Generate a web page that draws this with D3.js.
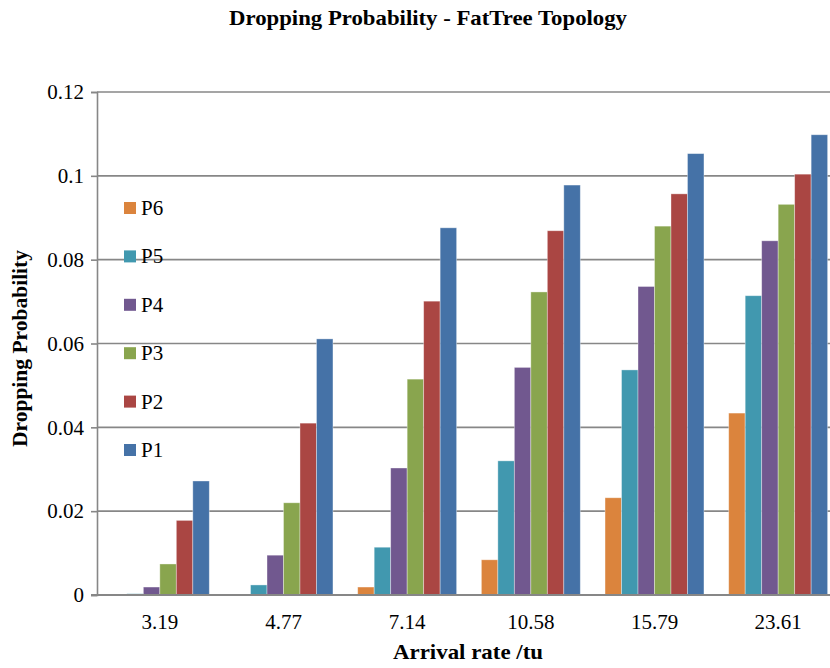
<!DOCTYPE html>
<html>
<head>
<meta charset="utf-8">
<script src="https://cdn.jsdelivr.net/npm/d3@7"></script>
<style>
html,body{margin:0;padding:0;background:#fff;overflow:hidden;}
svg{display:block;}
text{font-family:"Liberation Serif","DejaVu Serif",serif;fill:#000;}
</style>
</head>
<body>
<svg id="chart" width="830" height="668"></svg>
<script>
// ---- data ----
const categories = ["3.19", "4.77", "7.14", "10.58", "15.79", "23.61"];
const seriesNames = ["P6", "P5", "P4", "P3", "P2", "P1"];
const P6 = [0, 0.0002, 0.0019, 0.0084, 0.0232, 0.0434];
const P5 = [0.0003, 0.0024, 0.0114, 0.0320, 0.0537, 0.0714];
const P4 = [0.0019, 0.0095, 0.0303, 0.0543, 0.0736, 0.0845];
const P3 = [0.0074, 0.0220, 0.0515, 0.0723, 0.0880, 0.0932];
const P2 = [0.0178, 0.0410, 0.0701, 0.0869, 0.0957, 0.1004];
const P1 = [0.0272, 0.0611, 0.0876, 0.0978, 0.1053, 0.1098];
const yTickValues = [0, 0.02, 0.04, 0.06, 0.08, 0.1, 0.12];
const yTickLabels = ["0", "0.02", "0.04", "0.06", "0.08", "0.1", "0.12"];
const titleText = "Dropping Probability - FatTree Topology";
const xTitle = "Arrival rate /tu";
const yTitle = "Dropping Probability";

const seriesValues = {P6, P5, P4, P3, P2, P1};
const colors = {P6:"#DB843D", P5:"#4198AF", P4:"#71588F", P3:"#89A54E", P2:"#AA4643", P1:"#4572A7"};
const legendOrder = ["P6", "P5", "P4", "P3", "P2", "P1"];

const svg = d3.select("#chart");
const mLeft = 97, mRight = 840, mTop = 92, mBottom = 595;

const x0 = d3.scaleBand().domain(categories).range([mLeft + 1, mRight]).padding(0);
const x1 = d3.scaleBand().domain(seriesNames).range([0, x0.bandwidth()]).paddingInner(0).paddingOuter(0.75);
const y = d3.scaleLinear().domain([0, 0.12]).range([mBottom, mTop]);

const gridColor = "#878787";

// gridlines
svg.append("g")
  .selectAll("line")
  .data(yTickValues.filter(v => v > 0))
  .join("line")
  .attr("x1", mLeft).attr("x2", mRight)
  .attr("y1", d => y(d)).attr("y2", d => y(d))
  .attr("stroke", gridColor).attr("stroke-width", 1.6);

// bars
const groups = svg.append("g").selectAll("g")
  .data(categories)
  .join("g")
  .attr("transform", d => `translate(${x0(d)},0)`);

groups.selectAll("rect")
  .data((c, i) => seriesNames.map(s => ({s, v: seriesValues[s][i]})))
  .join("rect")
  .attr("x", d => x1(d.s))
  .attr("width", x1.bandwidth())
  .attr("y", d => y(d.v))
  .attr("height", d => y(0) - y(d.v))
  .attr("fill", d => colors[d.s])
  .attr("stroke", "rgba(255,255,255,0.45)")
  .attr("stroke-width", 0.8);

// y axis
const yAxis = d3.axisLeft(y)
  .tickValues(yTickValues)
  .tickFormat((d, i) => yTickLabels[i])
  .tickSize(6)
  .tickPadding(7);
const yg = svg.append("g").attr("transform", `translate(${mLeft},0)`).call(yAxis);
yg.select(".domain").attr("stroke", gridColor).attr("stroke-width", 1.6);
yg.selectAll(".tick line").attr("stroke", gridColor).attr("stroke-width", 1.6);
yg.selectAll(".tick text")
  .attr("font-family", "Liberation Serif, DejaVu Serif, serif")
  .attr("font-size", 21).attr("fill", "#000");

// x axis
const xAxis = d3.axisBottom(x0).tickSize(0).tickPadding(19);
const xg = svg.append("g").attr("transform", `translate(0,${mBottom})`).call(xAxis);
xg.select(".domain").attr("stroke", gridColor).attr("stroke-width", 1.8)
  .attr("d", `M${mLeft - 6},0H${mRight}`);
xg.selectAll(".tick text")
  .attr("font-family", "Liberation Serif, DejaVu Serif, serif")
  .attr("font-size", 21).attr("fill", "#000");

// legend
const legend = svg.append("g").selectAll("g")
  .data(legendOrder)
  .join("g")
  .attr("transform", (d, i) => `translate(124,${208 + i * 48.4})`);
legend.append("rect")
  .attr("x", 0).attr("y", -6).attr("width", 12).attr("height", 12)
  .attr("fill", d => colors[d]);
legend.append("text")
  .attr("x", 17).attr("y", 7)
  .attr("font-size", 21)
  .text(d => d);

// title
svg.append("text")
  .attr("x", 428).attr("y", 25)
  .attr("text-anchor", "middle")
  .attr("font-weight", "bold")
  .attr("font-size", 21)
  .attr("textLength", 398)
  .attr("lengthAdjust", "spacingAndGlyphs")
  .text(titleText);

// x title
svg.append("text")
  .attr("x", 468).attr("y", 659)
  .attr("text-anchor", "middle")
  .attr("font-weight", "bold")
  .attr("font-size", 21)
  .attr("textLength", 150)
  .attr("lengthAdjust", "spacingAndGlyphs")
  .text(xTitle);

// y title
svg.append("text")
  .attr("transform", `translate(27,${(mTop + mBottom) / 2 + 5}) rotate(-90)`)
  .attr("text-anchor", "middle")
  .attr("font-weight", "bold")
  .attr("font-size", 21)
  .attr("textLength", 197)
  .attr("lengthAdjust", "spacingAndGlyphs")
  .text(yTitle);
</script>
</body>
</html>
